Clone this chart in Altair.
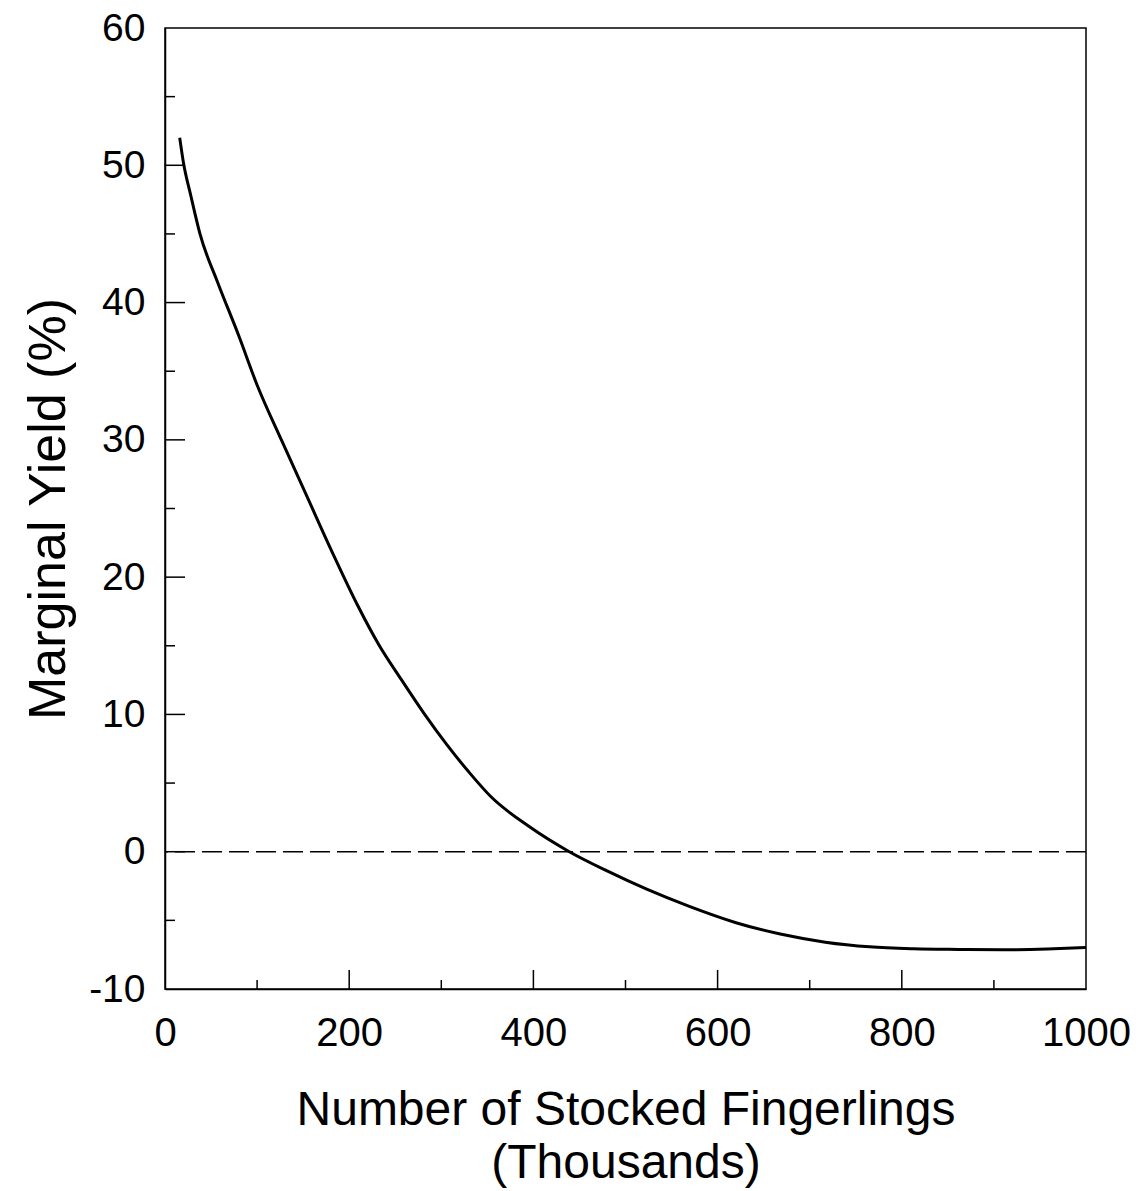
import altair as alt
import pandas as pd

# Curve
stocked = [16, 20, 28, 38, 57, 80, 100, 127, 154, 181, 208, 232, 257, 281, 306, 330,
           354, 395, 439, 480, 523, 570, 620, 668, 717, 765, 813, 862, 910, 958, 1000]
marginal_yield = [52.0, 50.2, 47.8, 45.0, 41.5, 37.6, 34.0, 29.9, 25.9, 21.9, 18.1, 15.1,
                  12.5, 10.1, 7.8, 5.8, 4.0, 1.85, 0.0, -1.4, -2.73, -4.0, -5.17, -6.0,
                  -6.59, -6.93, -7.07, -7.12, -7.15, -7.09, -6.98]

x_major_ticks = [200, 400, 600, 800]
x_minor_ticks = [100, 300, 500, 700, 900]
y_major_ticks = [0, 10, 20, 30, 40, 50]
y_minor_ticks = [-5, 5, 15, 25, 35, 45, 55]
x_labels = [0, 200, 400, 600, 800, 1000]
y_labels = [-10, 0, 10, 20, 30, 40, 50, 60]
reference_level = [0]

W, H = 921, 961
FONT = "Liberation Sans"

xs = alt.Scale(domain=[0, 1000], nice=False)
ys = alt.Scale(domain=[-10, 60], nice=False)

curve_df = pd.DataFrame({"x": stocked, "y": marginal_yield})

line = alt.Chart(curve_df).mark_line(color="black", strokeWidth=3, interpolate="monotone").encode(
    x=alt.X("x:Q", scale=xs, axis=alt.Axis(
        values=x_labels, ticks=False, grid=False, domainColor="black", domainWidth=1.5,
        labelExpr="datum.value + ''", labelFlush=False,
        labelFont=FONT, labelFontSize=40, labelColor="black", labelPadding=24,
        title=["Number of Stocked Fingerlings", "(Thousands)"],
        titleFont=FONT, titleFontSize=48, titleFontWeight="normal", titleColor="black",
        titleLineHeight=53, titlePadding=33)),
    y=alt.Y("y:Q", scale=ys, axis=alt.Axis(
        values=y_labels, ticks=False, grid=False, domainColor="black", domainWidth=1.5,
        labelExpr="datum.value + ''", labelFlush=False,
        labelFont=FONT, labelFontSize=39, labelColor="black", labelPadding=20,
        title="Marginal Yield (%)", titleFont=FONT, titleFontSize=52,
        titleFontWeight="normal", titleColor="black", titlePadding=13)),
)

zero = alt.Chart(pd.DataFrame({"y": reference_level})).mark_rule(
    color="black", strokeWidth=1.5, strokeDash=[20, 7]).encode(
    y=alt.Y("y:Q", scale=ys))

def xticks(vals, length):
    return alt.Chart(pd.DataFrame({"x": vals})).mark_rule(color="black", strokeWidth=1.5).encode(
        x=alt.X("x:Q", scale=xs), y=alt.value(H), y2=alt.value(H - length))

def yticks(vals, length):
    return alt.Chart(pd.DataFrame({"y": vals})).mark_rule(color="black", strokeWidth=1.5).encode(
        y=alt.Y("y:Q", scale=ys), x=alt.value(0), x2=alt.value(length))

chart = alt.layer(
    line,
    zero,
    xticks(x_major_ticks, 19), xticks(x_minor_ticks, 9),
    yticks(y_major_ticks, 20), yticks(y_minor_ticks, 10),
).properties(
    width=W, height=H,
    autosize="none",
    padding={"left": 157, "top": 20, "right": 50, "bottom": 200},
    background="white",
).configure_view(stroke="black", strokeWidth=1.5)

chart.save("out.html", embed_options={"renderer": "svg", "actions": False})
